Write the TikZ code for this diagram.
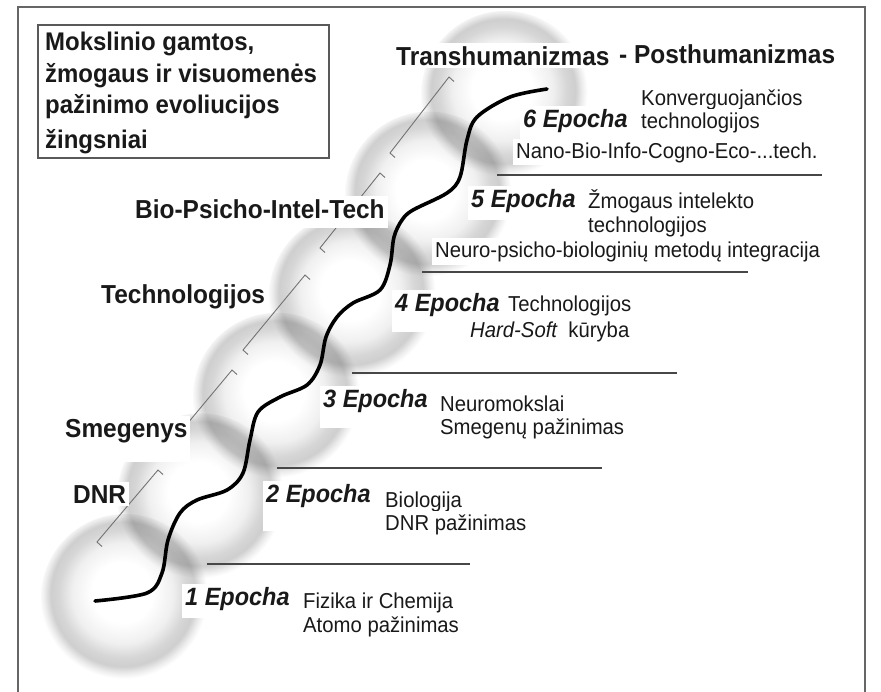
\documentclass[tikz,border=0pt]{standalone}
\usepackage{fontspec}
\setmainfont{Liberation Sans}[FakeStretch=0.94]
\pgfdeclareradialshading{ballshade}{\pgfpoint{-1bp}{2bp}}{%
 color(0bp)=(white); color(9bp)=(white); color(15bp)=(black!6); color(19bp)=(black!16); color(21.5bp)=(black!19); color(23.5bp)=(black!7); color(25bp)=(white); color(50bp)=(white)}
\tikzset{
  ball/.style={shading=ballshade},
  frameline/.style={draw=black!60, line width=1.3pt},
  sepline/.style={draw=black!72, line width=1.4pt},
  bracketline/.style={draw=black!55, line width=0.9pt},
  wave/.style={line width=3.6pt, line cap=round},
  lbl/.style={anchor=base west, inner sep=3pt, fill=white, text=black!90},
  side/.style={lbl, font=\fontsize{26}{28}\selectfont\bfseries},
  epo/.style={lbl, text depth=10pt, font=\fontsize{25}{27}\selectfont\bfseries\itshape},
  desc/.style={lbl, font=\fontsize{21.6}{24}\selectfont},
  ttl/.style={anchor=base west, inner sep=0pt, font=\fontsize{25.5}{27}\selectfont\bfseries, text=black!90},
}
\begin{document}
\begin{tikzpicture}[x=1pt,y=-1pt]
\useasboundingbox (0,0) rectangle (881,691);
\fill[white] (0,0) rectangle (881,691);
% frame
\draw[frameline] (18,710) -- (18,7) -- (865,7) -- (865,710);
% spheres
\begin{scope}[blend group=multiply]
\foreach \i in {0,...,5}{
  \shade[ball] ({125+76*\i},{598-100.6*\i}) circle (84);
}
\end{scope}
% brackets
\draw[bracketline] (102,546.5) -- (97,542) -- (158,470) -- (163,474.5);
\draw[bracketline] (177,446.5) -- (172,442) -- (232,370) -- (237,374.5);
\draw[bracketline] (248,354.5) -- (243,350) -- (305,275) -- (310,279.5);
\draw[bracketline] (325,252.5) -- (320,248) -- (380,173) -- (385,177.5);
\draw[bracketline] (395,157.5) -- (390,153) -- (449,77) -- (454,81.5);
% separator lines
\draw[sepline] (207,564) -- (470,564);
\draw[sepline] (277,468) -- (602,468);
\draw[sepline] (352,373) -- (677,373);
\draw[sepline] (422,272) -- (748,272);
\draw[sepline] (497,175) -- (822,175);
% title box
\draw[draw=black!65, line width=1.2pt] (38,25) rectangle (329,158);
\node[ttl] (t1) at (45,50) {Mokslinio gamtos,};
\node[ttl] (t2) at (45,82) {žmogaus ir visuomenės};
\node[ttl] (t3) at (45,113) {pažinimo evoliucijos};
\node[ttl] (t4) at (45,148) {žingsniai};
% side labels
\node[side] (trans) at (393,65) {Transhumanizmas};
\node[side] (post) at (616,63) {- Posthumanizmas};
\node[side, text depth=7pt] (bio) at (132,218) {Bio-Psicho-Intel-Tech};
\node[side] (tech) at (98,303) {Technologijos};
\node[side, text depth=22pt] (smeg) at (62,437) {Smegenys};
\node[side] (dnr) at (70,503) {DNR};
% epochs
\node[epo] (e1) at (182,605) {1 Epocha};
\node[desc] (d1a) at (300,608) {Fizika ir Chemija};
\node[desc] (d1b) at (300,632) {Atomo pažinimas};
\node[epo, text depth=26pt] (e2) at (263,502) {2 Epocha};
\node[desc] (d2a) at (382,507) {Biologija};
\node[desc] (d2b) at (382,530) {DNR pažinimas};
\node[epo, text depth=18pt] (e3) at (320,407) {3 Epocha};
\node[desc] (d3a) at (437,411) {Neuromokslai};
\node[desc] (d3b) at (437,434) {Smegenų pažinimas};
\node[epo, text depth=18pt] (e4) at (392,311) {4 Epocha};
\node[desc] (d4a) at (505,311) {Technologijos};
\node[desc] (d4b) at (467,337) {\itshape Hard-Soft\upshape\ \ kūryba};
\node[epo] (e5) at (468,207) {5 Epocha};
\node[desc] (d5a) at (585,208) {Žmogaus intelekto};
\node[desc] (d5b) at (585,232) {technologijos};
\node[desc] (d5c) at (432,257) {Neuro-psicho-biologinių metodų integracija};
\node[epo] (e6) at (520,127) {6 Epocha};
\node[desc] (d6a) at (638,105) {Konverguojančios};
\node[desc] (d6b) at (638,128) {technologijos};
\node[desc] (d6c) at (513,158) {Nano-Bio-Info-Cogno-Eco-...tech.};
% wave
\draw[wave] plot[smooth, tension=0.55] coordinates {
 (95,601) (147,593) (162,573) (168,540) (180,513) (197,500) (227,490) (243,473)
 (250,440) (258,412) (280,397) (307,385) (320,365) (326,337) (337,317) (353,303)
 (380,290) (390,265) (394,237) (402,220) (413,210) (447,193) (460,177) (467,140)
 (477,117) (510,97) (547,89)};
\end{tikzpicture}
\end{document}
